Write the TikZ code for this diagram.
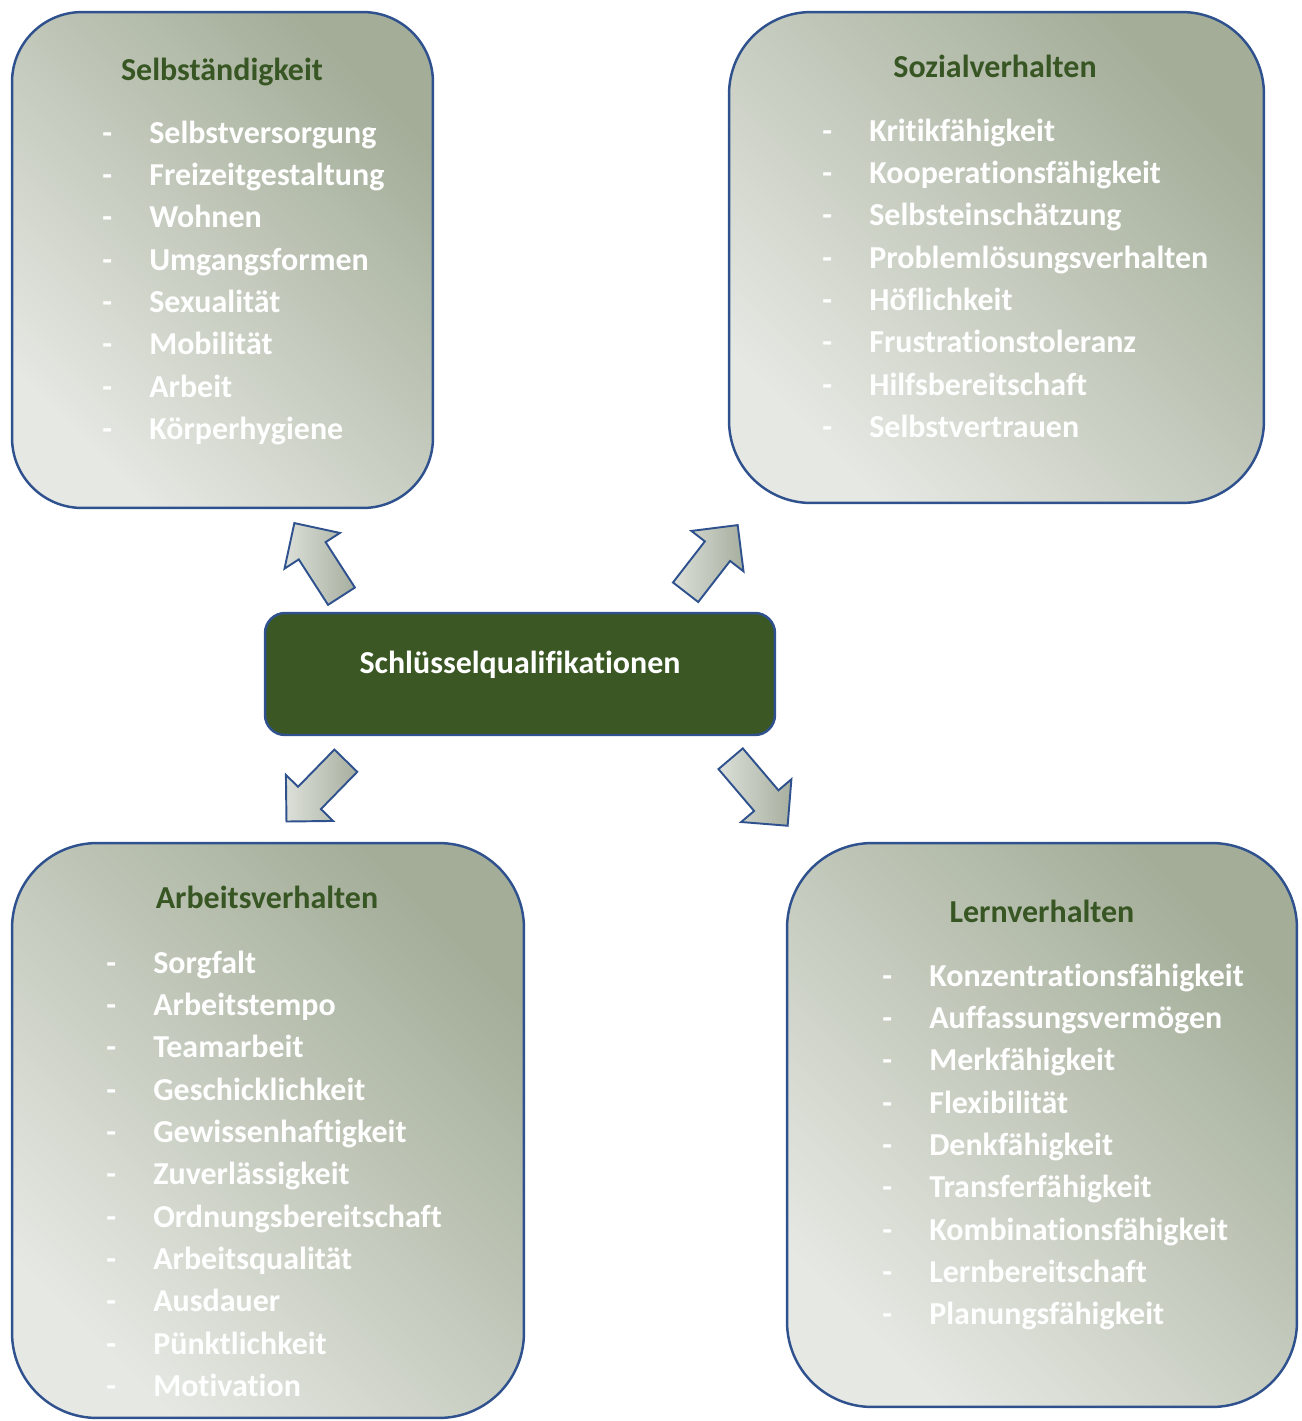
\documentclass[tikz,border=0pt]{standalone}
\usepackage{fontspec}
\setmainfont{Carlito}[Ligatures=NoCommon]
\usetikzlibrary{shapes.arrows}

\definecolor{rahmenblau}{HTML}{2F528F}
\definecolor{kerngruen}{HTML}{3A5724}
\definecolor{titelgruen}{HTML}{375623}
\definecolor{boxhell}{HTML}{E6E8E3}
\definecolor{boxdunkel}{HTML}{A3AD98}
\definecolor{pfeilhell}{HTML}{DCE0D9}
\definecolor{pfeildunkel}{HTML}{A7AF9F}

\begin{document}
\begin{tikzpicture}[
    x=0.02cm, y=-0.02cm,
    kat/.style={rectangle, draw=rahmenblau, line width=1.4pt, top color=boxdunkel, bottom color=boxhell, shading angle=-45, inner sep=0pt},
    kern/.style={rectangle, draw=rahmenblau, line width=1.4pt, fill=kerngruen, rounded corners=0.4cm, minimum width=10.2cm, minimum height=2.44cm, inner sep=0pt},
    titel/.style={anchor=base, text=titelgruen, font=\bfseries\fontsize{18.2}{24.1}\selectfont, inner sep=0pt},
    liste/.style={anchor=base west, text=white, font=\bfseries\fontsize{18.2}{24.1}\selectfont, inner sep=0pt},
    pfeil/.style={single arrow, draw=rahmenblau, line width=1.1pt, left color=pfeilhell, right color=pfeildunkel, inner sep=0.3cm, single arrow head extend=0.34cm, anchor=tail}
  ]
  \useasboundingbox (0,0) rectangle (1302,1421);

  % vier Bereiche
  \node[kat, minimum width=8.42cm, minimum height=9.92cm, rounded corners=1.4cm] (selb) at (222.5,260) {};
  \node[kat, minimum width=10.7cm, minimum height=9.82cm, rounded corners=1.64cm] (sozial) at (996.5,257.5) {};
  \node[kat, minimum width=10.24cm, minimum height=11.5cm, rounded corners=1.7cm] (arbeit) at (268,1130.5) {};
  \node[kat, minimum width=10.2cm, minimum height=11.28cm, rounded corners=1.7cm] (lern) at (1042,1125) {};

  % Mitte
  \node[kern] (kern) at (520,674) {};
  \node[anchor=base, text=white, font=\bfseries\fontsize{18.2}{24.1}\selectfont, inner sep=0pt] (kernT) at (520,673) {Schlüsselqualifikationen};

  % Pfeile
  \node[pfeil, minimum height=1.74cm, rotate=122.8] (pfeilSelb) at (342,597) {};
  \node[pfeil, minimum height=1.70cm, rotate=52.2] (pfeilSozial) at (685,593) {};
  \node[pfeil, minimum height=1.70cm, rotate=225.7] (pfeilArbeit) at (346.5,760) {};
  \node[pfeil, minimum height=1.76cm, rotate=-49.6] (pfeilLern) at (730,758) {};

  % Selbstaendigkeit
  \node[titel] (selbT) at (222,80) {Selbständigkeit};
  \node[liste] (selbL) at (102,143) {\begin{tabular}[t]{@{}p{0.94cm}@{}l@{}}
      - & Selbstversorgung\\
      - & Freizeitgestaltung\\
      - & Wohnen\\
      - & Umgangsformen\\
      - & Sexualität\\
      - & Mobilität\\
      - & Arbeit\\
      - & Körperhygiene
    \end{tabular}};

  % Sozialverhalten
  \node[titel] (sozialT) at (995,77) {Sozialverhalten};
  \node[liste] (sozialL) at (822,141) {\begin{tabular}[t]{@{}p{0.94cm}@{}l@{}}
      - & Kritikfähigkeit\\
      - & Kooperationsfähigkeit\\
      - & Selbsteinschätzung\\
      - & Problemlösungsverhalten\\
      - & Höflichkeit\\
      - & Frustrationstoleranz\\
      - & Hilfsbereitschaft\\
      - & Selbstvertrauen
    \end{tabular}};

  % Arbeitsverhalten
  \node[titel] (arbeitT) at (267,908) {Arbeitsverhalten};
  \node[liste] (arbeitL) at (106,973) {\begin{tabular}[t]{@{}p{0.94cm}@{}l@{}}
      - & Sorgfalt\\
      - & Arbeitstempo\\
      - & Teamarbeit\\
      - & Geschicklichkeit\\
      - & Gewissenhaftigkeit\\
      - & Zuverlässigkeit\\
      - & Ordnungsbereitschaft\\
      - & Arbeitsqualität\\
      - & Ausdauer\\
      - & Pünktlichkeit\\
      - & Motivation
    \end{tabular}};

  % Lernverhalten
  \node[titel] (lernT) at (1042,922) {Lernverhalten};
  \node[liste] (lernL) at (882,986) {\begin{tabular}[t]{@{}p{0.94cm}@{}l@{}}
      - & Konzentrationsfähigkeit\\
      - & Auffassungsvermögen\\
      - & Merkfähigkeit\\
      - & Flexibilität\\
      - & Denkfähigkeit\\
      - & Transferfähigkeit\\
      - & Kombinationsfähigkeit\\
      - & Lernbereitschaft\\
      - & Planungsfähigkeit
    \end{tabular}};
\end{tikzpicture}
\end{document}
